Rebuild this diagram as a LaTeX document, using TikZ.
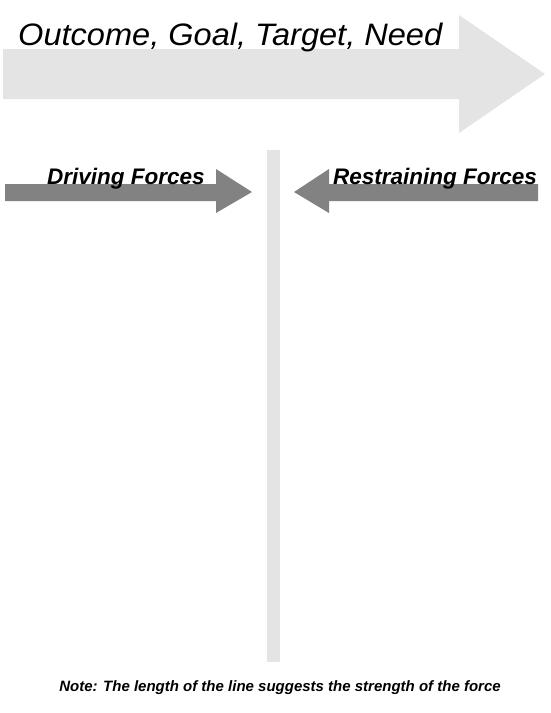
\documentclass[tikz,border=0pt]{standalone}
\usepackage{fontspec}
\setmainfont{Liberation Sans}
\definecolor{lightbar}{HTML}{E3E4E3}
\definecolor{forcegrey}{HTML}{828282}

\begin{document}
\begin{tikzpicture}[x=1pt,y=-1pt,
    goalarrow/.style={fill=lightbar},
    forcearrow/.style={fill=forcegrey},
    title/.style={anchor=base west,inner sep=0pt,xscale=1.05,font=\itshape\fontsize{31}{33}\selectfont},
    forcelabel/.style={anchor=base west,inner sep=0pt,font=\bfseries\itshape\fontsize{22.5}{24}\selectfont},
    note/.style={inner sep=0pt,font=\bfseries\itshape\fontsize{15}{17}\selectfont}]
    \useasboundingbox (0,0) rectangle (551,713);
    % outcome arrow
    \fill[goalarrow] (3,49) -- (459,49) -- (459,15) -- (545,74) -- (459,133) -- (459,99) -- (3,99) -- cycle;
    \node[title] (goal) at (18,45) {Outcome, Goal, Target, Need};
    % centre line
    \fill[lightbar] (267,150) rectangle (280,662);
    % driving forces
    \fill[forcearrow] (5,184) -- (216,184) -- (216,169) -- (252,192) -- (216,213) -- (216,201) -- (5,201) -- cycle;
    \node[forcelabel] (driving) at (47,184) {Driving Forces};
    % restraining forces
    \fill[forcearrow] (538,184) -- (329,184) -- (329,169) -- (294,192) -- (329,213) -- (329,201) -- (538,201) -- cycle;
    \node[forcelabel] (restraining) at (333,184) {Restraining Forces};
    \node[note] (note) at (280,688) {Note: The length of the line suggests the strength of the force};
\end{tikzpicture}
\end{document}
